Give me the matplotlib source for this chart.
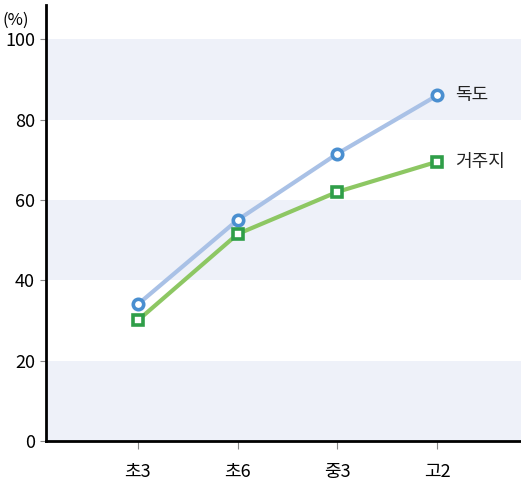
import numpy as np
import matplotlib.pyplot as plt

plt.rcParams['font.family'] = ['Noto Sans CJK KR', 'DejaVu Sans']

grades = ['초3', '초6', '중3', '고2']
dokdo = [34, 55, 71.5, 86]
residence = [30, 51.5, 62, 69.5]

fig = plt.figure(figsize=(5.21, 4.83), dpi=100)
ax = fig.add_axes([46 / 521, 42 / 483, 475 / 521, 436 / 483])

x = np.arange(len(grades))

# 옅은 가로 띠
for lo in (0, 40, 80):
    ax.axhspan(lo, lo + 20, color='#eef1f9', zorder=0, lw=0)

ax.plot(x, dokdo, color='#a9c1e6', lw=3, zorder=2)
ax.plot(x, dokdo, 'o', ms=7.5, mfc='white', mec='#4a8fd0', mew=2.6, zorder=3)
ax.plot(x, residence, color='#8dc763', lw=3, zorder=2)
ax.plot(x, residence, 's', ms=7.5, mfc='white', mec='#2f9e48', mew=2.6, zorder=3)

ax.text(x[-1] + 0.18, dokdo[-1], '독도', fontsize=13, va='center', color='#222222')
ax.text(x[-1] + 0.18, residence[-1], '거주지', fontsize=13, va='center', color='#222222')

ax.set_xlim(-0.92, 3.84)
ax.set_ylim(0, 108.5)
ax.set_yticks([0, 20, 40, 60, 80, 100])
ax.set_xticks(x)
ax.set_xticklabels(grades)
ax.tick_params(axis='y', labelsize=13, length=4, width=0.8, color='#888888', pad=4)
ax.tick_params(axis='x', labelsize=13, length=6, width=0.8, color='#888888', pad=10)

for side in ('top', 'right'):
    ax.spines[side].set_visible(False)
ax.spines['left'].set_linewidth(2)
ax.spines['bottom'].set_linewidth(2)

fig.text(3 / 521, 1 - 20 / 483, '(%)', fontsize=12, va='center', ha='left')

fig.savefig('out.png', dpi=100)
